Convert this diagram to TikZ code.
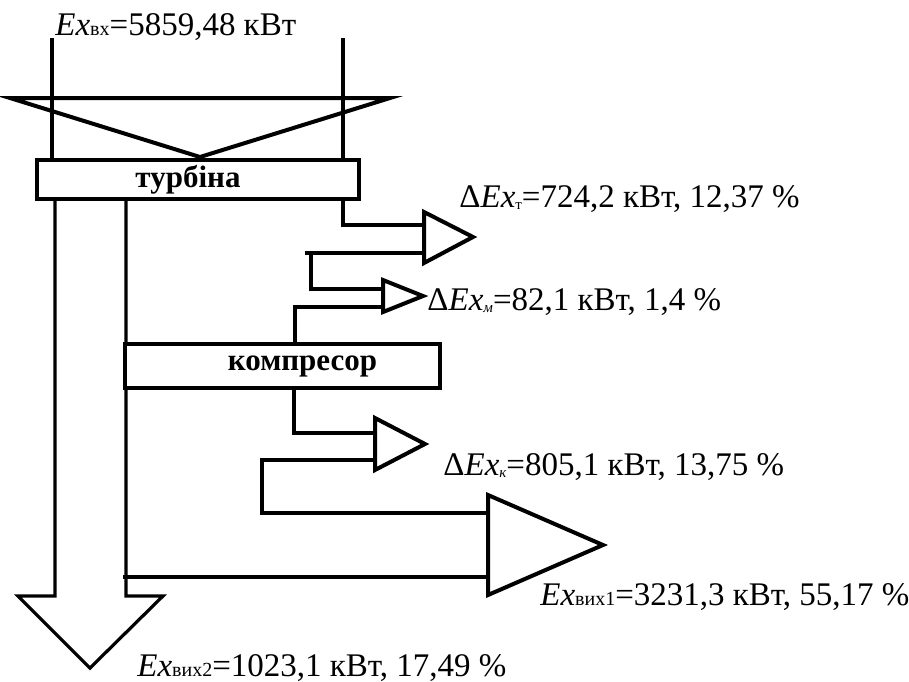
\documentclass[tikz,border=0pt]{standalone}
\usepackage{fontspec}
\setmainfont{Liberation Serif}
\newcommand\lo[1]{{\fontsize{10}{11}\selectfont #1}}
\newcommand\ix[1]{\raisebox{-1.2pt}{\fontsize{7.5}{8}\selectfont #1}}

\begin{document}
\begin{tikzpicture}[x=0.5pt,y=-0.5pt,
  every node/.style={font=\fontsize{16.5}{19}\selectfont},
  flow/.style={line width=2pt,line join=miter},
  head/.style={line width=2pt,line join=miter},
  unitbox/.style={draw,line width=2pt,fill=white,inner sep=0pt},
  unitname/.style={inner sep=0pt,font=\fontsize{15.5}{18}\selectfont\bfseries},
  lbl/.style={anchor=base west,inner sep=0pt}]
\useasboundingbox (0,0) rectangle (909,681);
% Inflow to the turbine
\draw[flow] (52,38) -- (52,163);
\draw[flow] (343,38) -- (343,163);
\draw[head] (10,98) -- (390,98) -- (200,157) -- cycle;
\node[lbl] (exin) at (55,35) {{\itshape Ex}\lo{вх}=5859,48 кВт};
\node[unitbox,minimum width=161pt,minimum height=19.5pt] (turb) at (198,179.5) {};
\node[unitname] (turbname) at ([xshift=-5pt]turb.center) {турбіна};

% Exhaust down (Ex_vyh2)
\draw[flow,line width=1.6pt] (55,199) -- (55,596) -- (18,596) -- (90,668)
  -- (163,596) -- (126,596) -- (126,199);
\node[lbl] (exout2) at (137,676) {{\itshape Ex}\lo{вих2}=1023,1 кВт, 17,49 \%};

% Turbine losses
\draw[flow] (343,199) -- (343,225) -- (424,225);
\draw[head] (424,212) -- (473,237) -- (424,263) -- cycle;
\draw[flow] (424,253) -- (305,253);
\draw[flow] (311,253) -- (311,289) -- (383,289);
\node[lbl] (dturb) at (459,207) {Δ{\itshape Ex}\ix{т}=724,2 кВт, 12,37 \%};

% Mechanical losses
\draw[head] (383,280) -- (423,296) -- (383,312) -- cycle;
\draw[flow] (383,307) -- (295,307) -- (295,344);
\node[lbl] (dmech) at (427,310) {Δ{\itshape Ex}\ix{\itshape м}=82,1 кВт, 1,4 \%};

% Compressor
\node[unitbox,minimum width=157.5pt,minimum height=22pt] (comp) at (282.5,366) {};
\node[unitname] (compname) at ([xshift=10pt]comp.center) {компресор};
\draw[flow] (294,388) -- (294,433) -- (375,433);
\draw[head] (375,418) -- (425,444) -- (375,470) -- cycle;
\draw[flow] (375,460) -- (262,460) -- (262,513) -- (488,513);
\node[lbl] (dcomp) at (443,475) {Δ{\itshape Ex}\ix{\itshape к}=805,1 кВт, 13,75 \%};

% Exhaust right (Ex_vyh1)
\draw[head] (488,495) -- (603,545) -- (488,595) -- cycle;
\draw[flow] (488,577) -- (123,577);
\node[lbl] (exout1) at (540,605) {{\itshape Ex}\lo{вих1}=3231,3 кВт, 55,17 \%};
\end{tikzpicture}
\end{document}
